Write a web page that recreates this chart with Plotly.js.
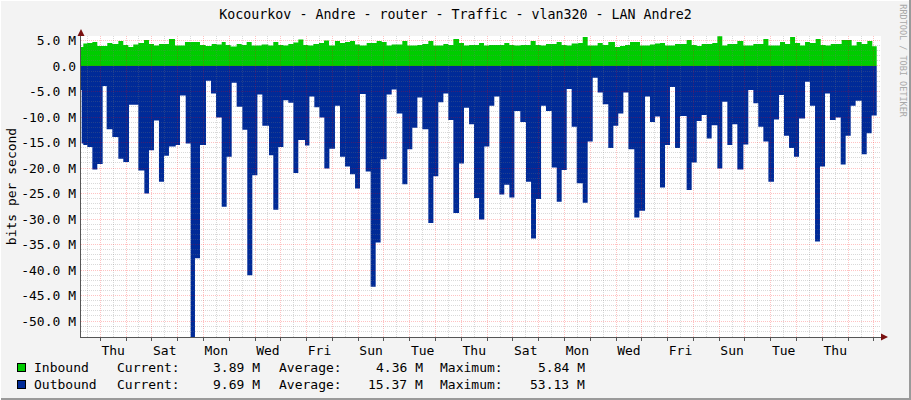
<!DOCTYPE html>
<html>
<head>
<meta charset="utf-8">
<script src="https://cdn.plot.ly/plotly-3.0.1.min.js"></script>
<style>
html,body{margin:0;padding:0;background:#F3F3F3;}
#chart{width:911px;height:400px;}
</style>
</head>
<body>
<div id="chart"></div>
<script>
// ---- text ----
const chartTitle = 'Kocourkov - Andre - router - Traffic - vlan320 - LAN Andre2';
const yTitle = 'bits per second';
const sideText = 'RRDTOOL / TOBI OETIKER';

// ---- time axis (hours since Wednesday 00:00) ----
const dayLabels = ['Thu','Sat','Mon','Wed','Fri','Sun','Tue','Thu','Sat','Mon','Wed','Fri','Sun','Tue','Thu'];
const dayLabelHours = [36,84,132,180,228,276,324,372,420,468,516,564,612,660,708];
const timeRange = [6.04, 750.6];
const dataEnd = 746.6;

// ---- value axis (Mbit/s) ----
const yTickVals = [5,0,-5,-10,-15,-20,-25,-30,-35,-40,-45,-50];
const yTickText = ['5.0 M','0.0','-5.0 M','-10.0 M','-15.0 M','-20.0 M','-25.0 M','-30.0 M','-35.0 M','-40.0 M','-45.0 M','-50.0 M'];
const valueRange = [-53.13, 5.88];

// ---- Inbound: step start time (h) and value (Mbit/s) ----
const inT = [6.0,8.2,11.9,16.6,21.2,30.5,35.2,40.8,45.4,50.1,
  54.7,59.4,64.7,69.3,74.0,78.6,87.9,93.5,102.8,116.8,
  122.1,127.7,132.3,137.0,140.7,145.3,150.9,155.6,160.2,164.9,
  174.2,180.4,185.0,189.7,194.4,199.0,203.7,208.3,213.0,217.6,
  222.3,227.5,232.2,236.9,242.4,247.1,251.7,256.4,261.1,265.7,
  271.9,281.2,285.9,290.5,295.2,305.1,309.8,319.1,323.7,329.3,
  334.0,343.3,347.9,352.6,357.9,362.5,367.2,376.5,381.1,385.8,
  400.0,404.7,409.4,415.2,424.5,429.2,433.9,438.8,448.7,453.4,
  458.0,462.7,468.9,473.0,477.6,486.9,491.6,496.8,503.0,507.7,
  512.3,517.0,526.3,535.6,540.3,544.9,549.6,558.9,569.7,574.4,
  579.1,583.7,593.6,598.3,602.9,607.6,616.9,622.5,631.8,641.1,
  645.8,656.6,661.3,666.0,670.6,675.3,679.9,684.5,689.8,694.5,
  699.1,703.8,714.0,723.3,727.9,732.6,737.9,742.5];
const inV = [3.7,4.4,4.5,4.7,3.9,4.5,4.3,4.9,4.1,3.7,
  4.2,4.5,5.1,4.3,4.0,4.3,5.3,4.0,4.7,4.1,
  3.9,4.3,4.2,4.7,4.1,3.8,4.3,4.1,4.7,4.0,
  4.2,4.0,4.7,4.1,4.0,4.3,4.6,5.2,4.1,4.0,
  4.3,4.5,5.0,4.0,4.9,4.5,4.7,4.9,4.2,4.0,
  4.5,4.9,4.7,4.0,4.2,4.9,4.0,4.1,4.3,4.9,
  4.0,4.3,4.1,5.3,4.5,4.0,4.1,4.5,4.0,4.1,
  4.5,4.1,4.0,4.1,4.9,4.1,4.0,4.3,4.7,4.1,
  4.0,4.4,4.5,5.7,4.0,4.5,4.1,4.7,3.7,3.9,
  4.1,4.7,4.0,4.2,4.4,4.5,4.0,4.3,5.1,4.1,
  3.9,4.3,4.5,5.84,4.0,4.3,4.9,4.0,4.3,5.3,
  4.0,4.7,4.3,5.7,4.5,4.0,4.7,4.5,5.3,4.1,
  4.0,4.3,5.1,4.0,4.7,4.3,4.9,3.89];

// ---- Outbound: step start time (h) and value (Mbit/s, drawn downward) ----
const outT = [6.0,6.7,8.2,11.9,16.6,21.2,26.2,29.9,35.2,40.8,
  45.4,50.7,59.4,65.0,69.3,74.0,78.6,83.3,87.9,94.2,
  98.2,103.5,108.1,112.1,116.8,122.4,127.0,131.7,137.0,141.6,
  146.3,150.9,156.2,160.8,165.5,170.2,174.8,181.0,185.0,189.7,
  194.4,199.0,203.7,208.3,214.5,218.6,223.2,227.9,232.5,237.2,
  242.4,247.1,251.7,256.4,261.1,265.7,271.0,275.6,280.3,284.9,
  290.5,295.2,299.8,305.1,309.8,314.4,319.1,323.7,329.3,334.0,
  338.6,343.3,347.9,352.6,357.9,362.5,367.2,371.8,376.5,381.4,
  386.1,390.7,395.4,400.0,404.7,409.4,414.9,420.2,424.9,429.5,
  434.2,438.8,444.1,448.8,453.4,458.1,462.7,467.4,473.0,477.6,
  482.3,486.9,491.6,496.8,501.5,506.1,510.8,515.5,521.0,525.7,
  531.0,535.6,540.3,544.9,549.6,554.2,558.9,563.5,569.7,574.4,
  579.1,583.7,588.4,593.0,598.3,602.9,607.6,612.2,616.9,622.5,
  627.1,631.8,636.4,641.1,645.8,651.0,655.7,660.3,665.0,669.6,
  674.3,679.9,684.5,689.2,693.8,698.5,703.1,708.4,713.1,717.7,
  722.4,727.0,732.6,737.3,741.9];
const outV = [4.7,15.2,15.5,15.9,20.3,19.2,3.9,12.4,13.9,18.2,
  18.8,7.6,20.5,25.0,16.5,10.7,22.7,17.6,15.8,15.5,
  5.8,15.2,53.13,37.7,15.5,2.9,5.4,10.1,27.6,17.8,
  3.3,8.0,12.5,41.0,21.4,5.6,11.7,17.5,28.2,15.9,
  6.7,7.2,21.0,14.5,15.6,6.0,8.1,10.1,20.1,16.2,
  7.8,17.8,19.7,21.2,24.0,5.5,20.7,43.3,34.6,18.3,
  5.6,4.6,9.3,23.2,16.3,12.1,6.2,12.4,30.8,21.6,
  7.1,5.4,10.6,28.8,19.1,8.2,11.4,25.9,30.1,15.8,
  7.8,6.0,25.2,23.3,25.8,8.8,11.0,22.7,33.8,26.1,
  7.8,8.8,19.9,26.6,20.4,4.5,11.9,23.0,26.8,14.8,
  2.3,5.2,7.5,16.1,11.7,9.3,5.2,16.3,29.7,28.4,
  6.0,11.0,9.9,23.8,15.5,4.1,16.1,9.8,24.3,18.9,
  10.8,9.6,14.2,11.6,20.1,7.0,15.5,11.4,20.3,15.4,
  4.7,7.3,11.9,14.8,22.7,10.5,5.7,13.7,16.1,17.8,
  10.3,3.1,7.8,34.4,19.7,5.4,10.6,10.1,19.3,13.7,
  7.8,6.8,17.3,13.2,9.69];

// ---- legend statistics ----
const seriesNames = ['Inbound','Outbound'];
const seriesColors = ['#00CC00','#002A97'];
const statCurrent = ['3.89 M','9.69 M'];
const statAverage = ['4.36 M','15.37 M'];
const statMaximum = ['5.84 M','53.13 M'];

const MONO = 'DejaVu Sans Mono';

const inbound = {
  type:'scatter', mode:'lines', name:seriesNames[0],
  x: inT.concat([dataEnd]), y: inV.concat([inV[inV.length-1]]),
  line:{shape:'hv', width:0, color:seriesColors[0]},
  fill:'tozeroy', fillcolor:seriesColors[0],
  xaxis:'x', yaxis:'y', hoverinfo:'skip', showlegend:false
};
const outbound = {
  type:'scatter', mode:'lines', name:seriesNames[1],
  x: outT.concat([dataEnd]), y: outV.map(v=>-v).concat([-outV[outV.length-1]]),
  line:{shape:'hv', width:0, color:seriesColors[1]},
  fill:'tozeroy', fillcolor:seriesColors[1],
  xaxis:'x', yaxis:'y', hoverinfo:'skip', showlegend:false
};
// empty trace so the grid subplot (drawn above the data, like RRDtool) exists
const gridHolder = {type:'scatter', mode:'lines', x:[], y:[], xaxis:'x2', yaxis:'y2', showlegend:false, hoverinfo:'skip'};

const majorGrid = 'rgba(255,0,0,0.24)';
const minorGrid = 'rgba(120,120,120,0.28)';
const axisLine = '#555555';

// paper coordinate helpers (plot area is 81..881 px wide, 36..337 px tall)
const px = v => (v - 81) / 800;
const py = v => (337 - v) / 301;

const annotations = [];
const rowY = [368, 384];
seriesNames.forEach((name, i) => {
  const y = py(rowY[i]);
  annotations.push({x:px(21.7), y:y, xref:'paper', yref:'paper', text:'\u00A0', showarrow:false,
    width:7, height:7, bgcolor:seriesColors[i], bordercolor:'#000', borderwidth:1, borderpad:0,
    xanchor:'center', yanchor:'middle', font:{size:5}});
  const txt = (t, x, anchor) => annotations.push({x:px(x), y:y, xref:'paper', yref:'paper', text:t,
    showarrow:false, xanchor:anchor, yanchor:'middle', font:{family:MONO, size:13, color:'#000'}});
  txt(name, 32, 'left');
  txt('Current:', 114.7, 'left');
  txt(statCurrent[i], 262, 'right');
  txt('Average:', 277, 'left');
  txt(statAverage[i], 425, 'right');
  txt('Maximum:', 438, 'left');
  txt(statMaximum[i], 587, 'right');
});
annotations.push({x:px(902.7), y:py(61), xref:'paper', yref:'paper', text:sideText, textangle:90,
  showarrow:false, xanchor:'center', yanchor:'middle', font:{family:MONO, size:8.5, color:'#A8A8A8'}});
// axis arrows
annotations.push({x:0, y:py(29), xref:'paper', yref:'paper', text:'', showarrow:true, ax:0, ay:8,
  arrowhead:2, arrowsize:1.4, arrowwidth:1, arrowcolor:'#7A1010'});
annotations.push({x:px(888), y:0, xref:'paper', yref:'paper', text:'', showarrow:true, ax:-8, ay:0,
  arrowhead:2, arrowsize:1.4, arrowwidth:1, arrowcolor:'#7A1010'});

const shapes = [
  {type:'rect', xref:'paper', yref:'paper', x0:0, x1:1, y0:0, y1:1, fillcolor:'#FFFFFF', line:{width:0}, layer:'below'},
  {type:'line', xref:'paper', yref:'paper', x0:px(910), x1:px(910), y0:py(400), y1:py(0), line:{color:'#9A9A9A', width:2}},
  {type:'line', xref:'paper', yref:'paper', x0:px(0), x1:px(911), y0:py(399), y1:py(399), line:{color:'#9A9A9A', width:2}},
  {type:'line', xref:'paper', yref:'paper', x0:px(0.5), x1:px(0.5), y0:py(400), y1:py(0), line:{color:'#FFFFFF', width:1}},
  {type:'line', xref:'paper', yref:'paper', x0:px(0), x1:px(909), y0:py(0.5), y1:py(0.5), line:{color:'#FFFFFF', width:1}}
];

const layout = {
  width:911, height:400,
  margin:{l:81, r:30, t:36, b:63, pad:0},
  paper_bgcolor:'#F3F3F3', plot_bgcolor:'rgba(0,0,0,0)',
  showlegend:false,
  font:{family:MONO, size:13, color:'#000'},
  title:{text:chartTitle, x:0.5, xanchor:'center', y:1-14/400, yanchor:'middle',
    font:{family:MONO, size:13.3, color:'#000'}},
  xaxis:{domain:[0,1], range:timeRange, tickmode:'array', tickvals:dayLabelHours, ticktext:dayLabels,
    ticks:'', showgrid:false, zeroline:false, showline:false, ticklabelstandoff:4,
    tickfont:{family:MONO, size:13, color:'#000'}, fixedrange:true},
  yaxis:{domain:[0,1], range:valueRange, tickmode:'array', tickvals:yTickVals, ticktext:yTickText,
    ticks:'', showgrid:false, zeroline:false, showline:false, ticklabelstandoff:4,
    tickfont:{family:MONO, size:13, color:'#000'}, fixedrange:true,
    title:{text:yTitle, standoff:1, font:{family:MONO, size:13, color:'#000'}}},
  xaxis2:{domain:[0,1], anchor:'y2', range:timeRange, tickmode:'linear', tick0:0, dtick:24,
    showticklabels:false, ticks:'outside', ticklen:3, tickcolor:axisLine, tickwidth:1,
    showgrid:true, gridcolor:majorGrid, griddash:'1px,1px', gridwidth:1,
    minor:{tick0:0, dtick:12, showgrid:true, gridcolor:minorGrid, griddash:'1px,1px', gridwidth:1, ticks:''},
    zeroline:false, showline:true, linecolor:axisLine, linewidth:1, fixedrange:true},
  yaxis2:{domain:[0,1], anchor:'x2', range:valueRange, tickmode:'linear', tick0:0, dtick:5,
    showticklabels:false, ticks:'',
    showgrid:true, gridcolor:majorGrid, griddash:'1px,1px', gridwidth:1,
    minor:{tick0:0, dtick:1, showgrid:true, gridcolor:minorGrid, griddash:'1px,1px', gridwidth:1, ticks:''},
    zeroline:false, showline:true, linecolor:axisLine, linewidth:1, fixedrange:true},
  shapes:shapes,
  annotations:annotations
};

Plotly.newPlot('chart', [inbound, outbound, gridHolder], layout, {displayModeBar:false, staticPlot:true});
</script>
</body>
</html>
